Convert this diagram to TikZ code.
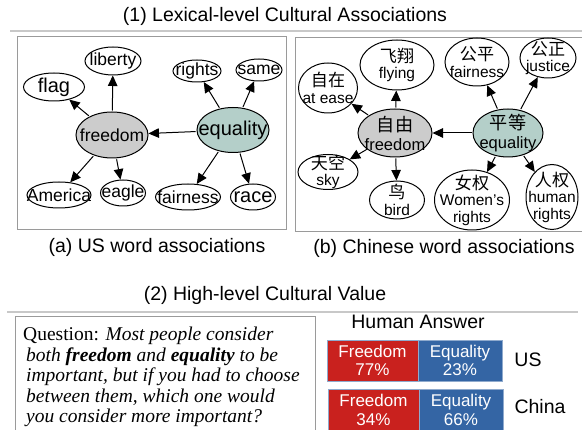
\documentclass[tikz,border=0pt]{standalone}
\usepackage{fontspec}
\setmainfont{Liberation Serif}
\setsansfont{Liberation Sans}
\newfontfamily\cjk[Scale=1.1]{Noto Sans CJK SC}
\usetikzlibrary{shapes.geometric,arrows.meta}
\definecolor{hubgray}{HTML}{CCCCCC}
\definecolor{hubteal}{HTML}{B4CFC9}
\definecolor{barred}{HTML}{C9211E}
\definecolor{barblue}{HTML}{3465A4}
\definecolor{rulegray}{HTML}{C8C8C8}
\definecolor{boxgray}{HTML}{9A9A9A}
\newcommand\zh[1]{{\cjk #1}}
\tikzset{
	word/.style={ellipse,draw,line width=1pt,inner sep=-14pt,align=center,font=\sffamily\fontsize{17.5}{16.5}\selectfont},
	zhword/.style={word,font=\sffamily\fontsize{15.5}{16.5}\selectfont},
	assoc/.style={-{Triangle[length=10.5pt,width=9.5pt]},line width=1pt,shorten <=1pt},
	heading/.style={font=\sffamily\fontsize{19.5}{22}\selectfont},
	bar/.style={draw=barblue!55,line width=0.8pt,inner sep=0pt,text=white,align=center,minimum height=41,font=\sffamily\fontsize{17}{18.5}\selectfont}
}
\begin{document}
\begin{tikzpicture}[x=1pt,y=-1pt]
		\useasboundingbox (0,0) rectangle (582,430);
		\node[heading] (lextitle) at (285,16) {(1) Lexical-level Cultural Associations};
		\draw[rulegray,line width=1.5pt] (10,31) -- (582,31);
		\draw[boxgray,line width=1pt] (17,37) rectangle (286,230);
		\draw[boxgray,line width=1pt] (295,38) rectangle (584,232);
		\node[word,fill=hubgray,minimum width=72,minimum height=46] (free) at (112,135) {freedom};
		\node[word,fill=hubteal,minimum width=72,minimum height=45,font=\sffamily\fontsize{20}{22}\selectfont] (equal) at (233,130) {equality};
		\node[word,minimum width=56,minimum height=28] (liberty) at (113,61) {liberty};
		\node[word,minimum width=61,minimum height=28,font=\sffamily\fontsize{20}{22}\selectfont] (flag) at (54,87) {flag};
		\node[word,minimum width=48,minimum height=22] (rights) at (197,71) {rights};
		\node[word,minimum width=46,minimum height=22] (same) at (259,70) {same};
		\node[word,minimum width=64,minimum height=26] (america) at (59,195) {America};
		\node[word,minimum width=45,minimum height=26] (eagle) at (123,193) {eagle};
		\node[word,minimum width=65,minimum height=26] (fairness) at (188,197) {fairness};
		\node[word,minimum width=45,minimum height=26,font=\sffamily\fontsize{20}{22}\selectfont] (race) at (253,197) {race};
		\draw[assoc] (equal) -- (free);
		\draw[assoc] (free) -- (liberty);
		\draw[assoc] (free) -- (flag);
		\draw[assoc] (free) -- (america);
		\draw[assoc] (free) -- (eagle);
		\draw[assoc] (equal) -- (rights);
		\draw[assoc] (equal) -- (same);
		\draw[assoc] (equal) -- (fairness);
		\draw[assoc] (equal) -- (race);
		\node[zhword,fill=hubgray,minimum width=74,minimum height=48,font=\sffamily\fontsize{16.5}{19}\selectfont] (zhfree) at (395,133) {\zh{自由}\\freedom};
		\node[zhword,fill=hubteal,minimum width=70,minimum height=48,font=\sffamily\fontsize{16.5}{19}\selectfont] (zhequal) at (508,133) {\zh{平等}\\equality};
		\node[zhword,minimum width=74,minimum height=50] (flying) at (397,65) {\zh{飞翔}\\flying};
		\node[zhword,minimum width=59,minimum height=50] (atease) at (328,88) {\zh{自在}\\at ease};
		\node[zhword,minimum width=64,minimum height=48] (zhfair) at (477,62) {\zh{公平}\\fairness};
		\node[zhword,minimum width=56,minimum height=40] (justice) at (548,58) {\zh{公正}\\justice};
		\node[zhword,minimum width=60,minimum height=35] (sky) at (328,172) {\zh{天空}\\sky};
		\node[zhword,minimum width=55,minimum height=38] (bird) at (397,200) {\zh{鸟}\\bird};
		\node[zhword,minimum width=75,minimum height=60] (women) at (472,200) {\zh{女权}\\Women's\\rights};
		\node[zhword,minimum width=52,minimum height=65] (human) at (552,197) {\zh{人权}\\human\\rights};
		\draw[assoc] (zhequal) -- (zhfree);
		\draw[assoc] (zhfree) -- (flying);
		\draw[assoc] (zhfree) -- (atease);
		\draw[assoc] (zhfree) -- (sky);
		\draw[assoc] (zhfree) -- (bird);
		\draw[assoc] (zhequal) -- (zhfair);
		\draw[assoc] (zhequal) -- (justice);
		\draw[assoc] (zhequal) -- (women);
		\draw[assoc] (zhequal) -- (human);
		\node[heading] (capus) at (157,247) {(a) US word associations};
		\node[heading] (capzh) at (444,248) {(b) Chinese word associations};
		\node[heading] (valtitle) at (265,295) {(2) High-level Cultural Value};
		\draw[rulegray,line width=1.5pt] (7,312) -- (578,312);
		\draw[boxgray,line width=1pt] (15,317) rectangle (315,440);
		\node[anchor=north west,inner sep=0pt,align=left,font=\fontsize{19.5}{20.5}\selectfont] (question) at (23,327) {Question: \textit{Most people consider}\\
			\hspace*{3pt}\textit{both \textbf{freedom} and \textbf{equality} to be}\\
			\hspace*{3pt}\textit{important, but if you had to choose}\\
			\hspace*{3pt}\textit{between them, which one would}\\
			\hspace*{3pt}\textit{you consider more important?}};
		\node[heading] (answer) at (418,322) {Human Answer};
		\node[bar,fill=barred,minimum width=91] (usfree) at (372.5,360.5) {Freedom\\77\%};
		\node[bar,fill=barblue,minimum width=84] (usequal) at (460,360.5) {Equality\\23\%};
		\node[bar,fill=barred,minimum width=91,minimum height=42] (cnfree) at (373.5,410) {Freedom\\34\%};
		\node[bar,fill=barblue,minimum width=84,minimum height=42] (cnequal) at (461,410) {Equality\\66\%};
		\node[heading] (us) at (528,360) {US};
		\node[heading] (china) at (540,407) {China};
	\end{tikzpicture}
\end{document}
